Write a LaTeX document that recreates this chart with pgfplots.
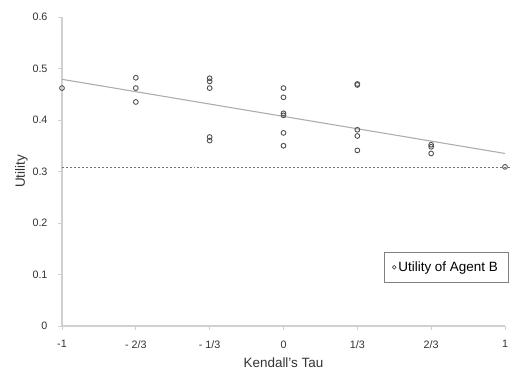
\documentclass[border=0pt]{standalone}
\usepackage{pgfplots}
\pgfplotsset{compat=1.18}
\usepackage{fontspec}
\setmainfont{Liberation Sans}
\definecolor{axgray}{HTML}{D0D0D0}
\definecolor{trend}{HTML}{ADADAD}
\definecolor{mk}{HTML}{505050}
\begin{document}
\begin{tikzpicture}
\useasboundingbox (-62bp,-45bp) rectangle (457bp,326bp);
\begin{axis}[
  at={(0,0)}, anchor=south west,
  scale only axis, width=443bp, height=309bp,
  xmin=-1, xmax=1, ymin=0, ymax=0.6,
  axis x line=bottom, axis y line=left,
  axis line style={axgray, line width=1.2pt, -},
  xtick={-1,-0.6666667,-0.3333333,0,0.3333333,0.6666667,1},
  xticklabels={-1,- 2/3,- 1/3,0,1/3,2/3,1},
  ytick={0,0.1,0.2,0.3,0.4,0.5,0.6},
  yticklabels={0,0.1,0.2,0.3,0.4,0.5,0.6},
  tick style={axgray, line width=0.8pt},
  tick align=outside, major tick length=4bp,
  ticklabel style={font=\fontsize{10.8}{12}\selectfont, text=black!80},
  xticklabel style={yshift=-7bp},
  yticklabel style={xshift=-7bp},
  xlabel={Kendall's Tau}, ylabel={Utility},
  label style={font=\fontsize{13.5}{15}\selectfont, text=black!80},
  xlabel style={at={(axis description cs:0.5,0)}, anchor=center, yshift=-37bp},
  ylabel style={at={(axis description cs:-0.0915,0.5)}, anchor=center},
  clip=false,
  legend style={at={(1.007,0.24)}, anchor=north east, draw=black!50, line width=0.6pt,
    font=\fontsize{13.5}{15}\selectfont, inner xsep=8bp, inner ysep=7.5bp, row sep=0pt},
  legend cell align=left,
  legend image code/.code={\draw[mk, line width=0.7pt] (0.12cm,0cm) circle (1.9pt);},
]
\addplot[only marks, mark=o, mark size=2.4pt, mark options={mk, line width=0.9pt}]
coordinates {
(-1,0.462)
(-0.6666667,0.482) (-0.6666667,0.462) (-0.6666667,0.435)
(-0.3333333,0.481) (-0.3333333,0.475) (-0.3333333,0.462) (-0.3333333,0.367) (-0.3333333,0.360)
(0,0.462) (0,0.444) (0,0.413) (0,0.409) (0,0.375) (0,0.350)
(0.3333333,0.470) (0.3333333,0.468) (0.3333333,0.381) (0.3333333,0.369) (0.3333333,0.341)
(0.6666667,0.352) (0.6666667,0.348) (0.6666667,0.335)
(1,0.309)
};
\addlegendentry{Utility of Agent B}
\addplot[trend, line width=1.1pt, forget plot] coordinates {(-1,0.479) (1,0.335)};
\addplot[black!55, line width=0.5pt, forget plot, dash pattern=on 2pt off 2pt] coordinates {(-1,0.309) (1.03,0.309)};
\end{axis}
\end{tikzpicture}
\end{document}
